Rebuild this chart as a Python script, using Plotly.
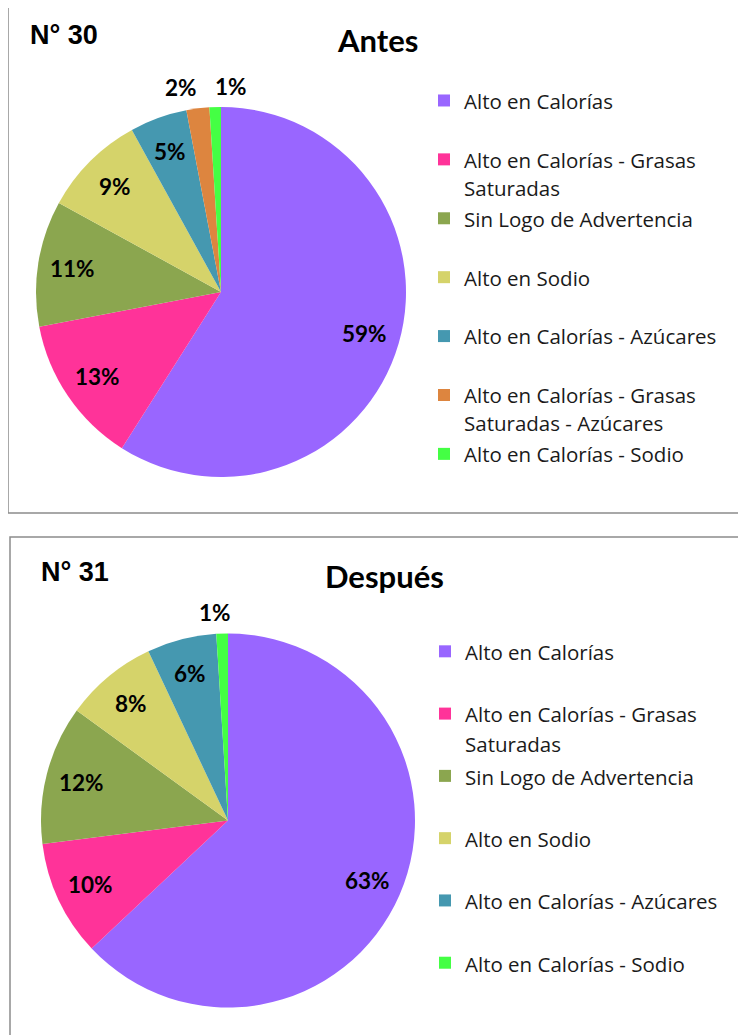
import math
import plotly.graph_objects as go

# ---------------- data ----------------
labels_antes = [
    "Alto en Calorías",
    "Alto en Calorías - Grasas Saturadas",
    "Sin Logo de Advertencia",
    "Alto en Sodio",
    "Alto en Calorías - Azúcares",
    "Alto en Calorías - Grasas Saturadas - Azúcares",
    "Alto en Calorías - Sodio",
]
values_antes = [59, 13, 11, 9, 5, 2, 1]

labels_despues = [
    "Alto en Calorías",
    "Alto en Calorías - Grasas Saturadas",
    "Sin Logo de Advertencia",
    "Alto en Sodio",
    "Alto en Calorías - Azúcares",
    "Alto en Calorías - Sodio",
]
values_despues = [63, 10, 12, 8, 6, 1]

# legend display text (wrapped as in the reference)
legend_text = {
    "Alto en Calorías": "Alto en Calorías<br>&nbsp;",
    "Alto en Calorías - Grasas Saturadas": "Alto en Calorías - Grasas<br>Saturadas",
    "Sin Logo de Advertencia": "Sin Logo de Advertencia<br>&nbsp;",
    "Alto en Sodio": "Alto en Sodio<br>&nbsp;",
    "Alto en Calorías - Azúcares": "Alto en Calorías - Azúcares<br>&nbsp;",
    "Alto en Calorías - Grasas Saturadas - Azúcares": "Alto en Calorías - Grasas<br>Saturadas - Azúcares",
    "Alto en Calorías - Sodio": "Alto en Calorías - Sodio",
}

colors = {
    "Alto en Calorías": "#9966FF",
    "Alto en Calorías - Grasas Saturadas": "#FF3399",
    "Sin Logo de Advertencia": "#8BA64F",
    "Alto en Sodio": "#D5D36A",
    "Alto en Calorías - Azúcares": "#4598B0",
    "Alto en Calorías - Grasas Saturadas - Azúcares": "#DD853F",
    "Alto en Calorías - Sodio": "#44FF44",
}

# which slice labels sit outside the pie, and small horizontal nudges for them
outside_antes = [False, False, False, False, False, True, True]
nudge_antes = [0, 0, 0, 0, 0, -14, 16]
outside_despues = [False, False, False, False, False, True]
nudge_despues = [0, 0, 0, 0, 0, -6]

# page is drawn with an 8px body margin -> figure is 8px smaller and offset
OFF = 8
W, H = 746 - OFF, 1035 - OFF


def px_x(v):
    return (v - OFF) / W


def px_y(v):
    return 1 - (v - OFF) / H


def disp(lbls, suffix=""):
    return ['<span style="font-size:20.5px">' + legend_text[l] + suffix + "</span>" for l in lbls]


label_font = dict(family="Lato", size=22.5, color="black", weight="bold")

fig = go.Figure()

pies = [
    # labels, values, legend, center(x,y page px), radius, outside flags, nudges, suffix
    (labels_antes, values_antes, "legend", (221, 292), 185, outside_antes, nudge_antes, ""),
    (labels_despues, values_despues, "legend2", (228, 820.5), 187, outside_despues, nudge_despues, "\u200b"),
]

for lbls, vals, leg, (cx, cy), r, outside, nudge, suffix in pies:
    fig.add_trace(go.Pie(
        labels=disp(lbls, suffix),
        values=vals,
        sort=False,
        direction="clockwise",
        rotation=0,
        marker=dict(colors=[colors[l] for l in lbls], line=dict(width=0)),
        textinfo="none",
        domain=dict(x=[px_x(cx - r), px_x(cx + r)], y=[px_y(cy + r), px_y(cy - r)]),
        legend=leg,
        hoverinfo="label+percent",
    ))
    # slice value labels, placed along each slice bisector
    total = sum(vals)
    cum = 0
    for v, out, dx in zip(vals, outside, nudge):
        mid = (cum + v / 2) / total * 2 * math.pi
        cum += v
        rr = r + 21 if out else r * 0.81
        x = cx + rr * math.sin(mid) + dx
        y = cy - rr * math.cos(mid)
        fig.add_annotation(text=f"{v}%", x=px_x(x), y=px_y(y), xref="paper", yref="paper",
                           xanchor="center", yanchor="middle", showarrow=False,
                           font=label_font)

# panel borders
fig.add_shape(type="rect", xref="paper", yref="paper",
              x0=px_x(8), x1=px_x(770), y0=px_y(513), y1=px_y(3),
              line=dict(color="#8c8c8c", width=1.5), fillcolor="rgba(0,0,0,0)")
fig.add_shape(type="rect", xref="paper", yref="paper",
              x0=px_x(10), x1=px_x(770), y0=px_y(1060), y1=px_y(537),
              line=dict(color="#8c8c8c", width=1.5), fillcolor="rgba(0,0,0,0)")

# titles
num_font = dict(family="Liberation Sans", size=27, color="black", weight="bold")
title_font = dict(family="Lato", size=31, color="black", weight="bold")
fig.add_annotation(text="N° 30", x=px_x(28), y=px_y(35), xref="paper", yref="paper",
                   xanchor="left", yanchor="middle", showarrow=False, font=num_font)
fig.add_annotation(text="Antes", x=px_x(377), y=px_y(40), xref="paper", yref="paper",
                   xanchor="center", yanchor="middle", showarrow=False, font=title_font)
fig.add_annotation(text="N° 31", x=px_x(39), y=px_y(572), xref="paper", yref="paper",
                   xanchor="left", yanchor="middle", showarrow=False, font=num_font)
fig.add_annotation(text="Después", x=px_x(384), y=px_y(576), xref="paper", yref="paper",
                   xanchor="center", yanchor="middle", showarrow=False, font=title_font)

fig.update_layout(
    width=W, height=H,
    margin=dict(l=0, r=0, t=0, b=0),
    paper_bgcolor="white",
    plot_bgcolor="white",
    legend=dict(
        x=px_x(424), y=px_y(80), xanchor="left", yanchor="top",
        font=dict(family="Open Sans", size=21.5, color="#1a1a1a"),
        valign="top", bgcolor="rgba(0,0,0,0)", traceorder="normal",
    ),
    legend2=dict(
        x=px_x(425), y=px_y(630), xanchor="left", yanchor="top",
        font=dict(family="Open Sans", size=22.8, color="#1a1a1a"),
        valign="top", bgcolor="rgba(0,0,0,0)", traceorder="normal",
    ),
)

fig.write_html("out.html")
